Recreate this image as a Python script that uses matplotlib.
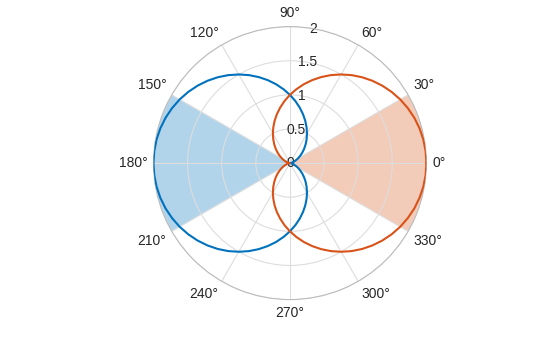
import numpy as np
import matplotlib
matplotlib.use("Agg")
import matplotlib.pyplot as plt

plt.rcParams['font.family'] = ['Liberation Sans', 'DejaVu Sans']

# Curve samples (angle in degrees, radius), 5 degree steps
angles_deg = list(range(0, 365, 5))
blue_r = [0.0, 0.004, 0.015, 0.034, 0.060, 0.094, 0.134, 0.181, 0.234, 0.293, 0.357, 0.426,
          0.5, 0.577, 0.658, 0.741, 0.826, 0.913, 1.0, 1.087, 1.174, 1.259, 1.342, 1.423,
          1.5, 1.574, 1.643, 1.707, 1.766, 1.819, 1.866, 1.906, 1.940, 1.966, 1.985, 1.996,
          2.0,
          1.996, 1.985, 1.966, 1.940, 1.906, 1.866, 1.819, 1.766, 1.707, 1.643, 1.574, 1.5,
          1.423, 1.342, 1.259, 1.174, 1.087, 1.0, 0.913, 0.826, 0.741, 0.658, 0.577, 0.5,
          0.426, 0.357, 0.293, 0.234, 0.181, 0.134, 0.094, 0.060, 0.034, 0.015, 0.004, 0.0]
orange_r = [2.0, 1.996, 1.985, 1.966, 1.940, 1.906, 1.866, 1.819, 1.766, 1.707, 1.643, 1.574,
            1.5, 1.423, 1.342, 1.259, 1.174, 1.087, 1.0, 0.913, 0.826, 0.741, 0.658, 0.577,
            0.5, 0.426, 0.357, 0.293, 0.234, 0.181, 0.134, 0.094, 0.060, 0.034, 0.015, 0.004,
            0.0,
            0.004, 0.015, 0.034, 0.060, 0.094, 0.134, 0.181, 0.234, 0.293, 0.357, 0.426, 0.5,
            0.577, 0.658, 0.741, 0.826, 0.913, 1.0, 1.087, 1.174, 1.259, 1.342, 1.423, 1.5,
            1.574, 1.643, 1.707, 1.766, 1.819, 1.866, 1.906, 1.940, 1.966, 1.985, 1.996, 2.0]

# Shaded sectors: center angle, span, radius
sector_centers = [180, 0]
sector_spans = [60, 60]
sector_radius = [2, 2]

r_ticks = [0, 0.5, 1, 1.5, 2]
r_tick_labels = ['0', '0.5', '1', '1.5', '2']
theta_ticks = list(range(0, 360, 30))

blue = '#0072BD'
orange = '#D95319'
text_color = '#262626'

fig = plt.figure(figsize=(5.6, 3.37), dpi=100)
ax = fig.add_axes([0.274, 0.111, 0.4875, 0.810], projection='polar')

th = np.deg2rad(angles_deg)
ax.bar(np.deg2rad(sector_centers[0]), sector_radius[0], width=np.deg2rad(sector_spans[0]),
       color=blue, alpha=0.3, linewidth=0, zorder=1)
ax.bar(np.deg2rad(sector_centers[1]), sector_radius[1], width=np.deg2rad(sector_spans[1]),
       color=orange, alpha=0.3, linewidth=0, zorder=1)
ax.plot(th, blue_r, color=blue, lw=1.5, zorder=3)
ax.plot(th, orange_r, color=orange, lw=1.5, zorder=3)

rmax = 2
ax.set_ylim(0, rmax)
ax.set_yticks(r_ticks)
ax.set_yticklabels(r_tick_labels, ha='center', va='center')
ax.set_rlabel_position(80)
ax.tick_params(axis='y', labelsize=10, colors=text_color, pad=0)

# theta labels placed outside the ring, aligned by direction
ax.set_xticks(np.deg2rad(theta_ticks))
ax.set_xticklabels([])
for t in theta_ticks:
    c, s = np.cos(np.deg2rad(t)), np.sin(np.deg2rad(t))
    ha = 'left' if c > 0.01 else ('right' if c < -0.01 else 'center')
    va = 'bottom' if s > 0.01 else ('top' if s < -0.01 else 'center')
    ax.text(np.deg2rad(t), rmax * 1.045, f'{t}°', ha=ha, va=va, fontsize=10,
            color=text_color, clip_on=False)

ax.grid(True, color='#dddddd', lw=0.8)
ax.spines['polar'].set_color('#bbbbbb')
ax.spines['polar'].set_linewidth(0.8)

fig.savefig('out.png', dpi=100, facecolor='white')
